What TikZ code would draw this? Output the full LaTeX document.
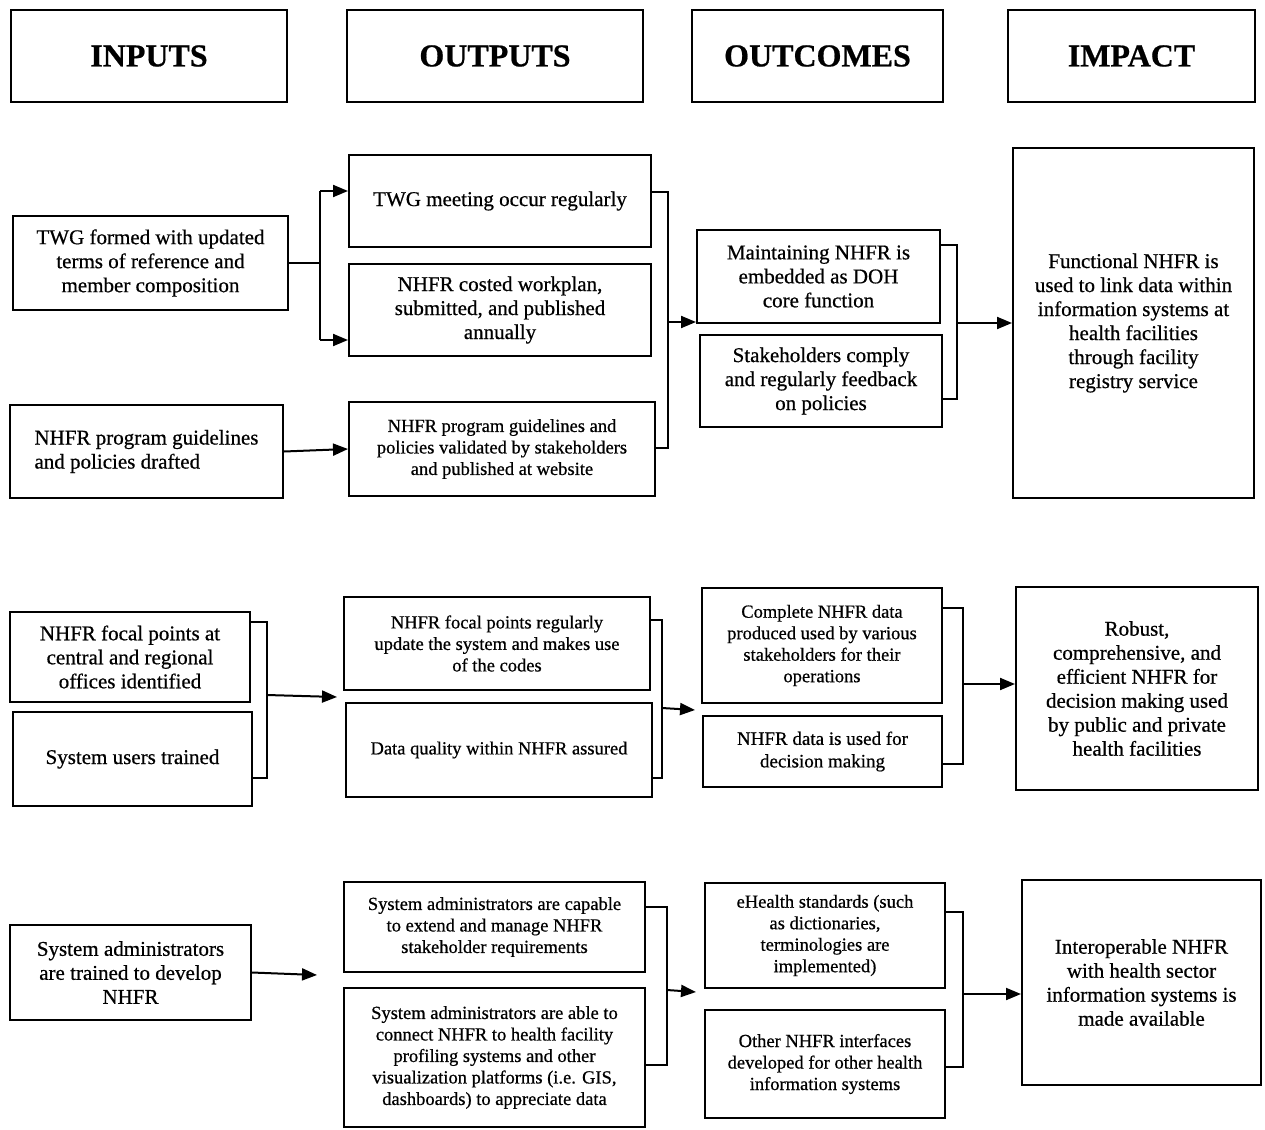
\documentclass[tikz,border=0pt]{standalone}
\usepackage{fontspec}
\setmainfont{Liberation Serif}[FakeBold=0.6]
\usetikzlibrary{arrows.meta}
\tikzset{
 box/.style={draw, line width=2pt, align=center, inner sep=2pt},
 hdr/.style={font=\fontsize{32}{36}\selectfont\bfseries},
 bigt/.style={font=\fontsize{21}{24}\selectfont},
 smallt/.style={font=\fontsize{18.5}{21.5}\selectfont},
 ln/.style={line width=2pt},
 arr/.style={line width=2pt, -{Triangle[length=15pt,width=12pt]}},
}
\newcommand\bx[7]{%
 \pgfmathsetmacro\bxw{#4-#2}\pgfmathsetmacro\bxh{#5-#3}%
 \pgfmathsetmacro\bxcx{(#2+#4)/2}\pgfmathsetmacro\bxcy{(#3+#5)/2}%
 \node[box,#6,minimum width=\bxw pt,minimum height=\bxh pt] (#1) at (\bxcx,\bxcy) {#7};}
\begin{document}
\begin{tikzpicture}[x=1pt,y=-1pt]
\fill[white] (0,0) rectangle (1265,1129);
\useasboundingbox (0,0) rectangle (1265,1129);
% headers
\bx{hin}{11}{10}{287}{102}{hdr}{INPUTS}
\bx{hout}{347}{10}{643}{102}{hdr}{OUTPUTS}
\bx{hoc}{692}{10}{943}{102}{hdr}{OUTCOMES}
\bx{him}{1008}{10}{1255}{102}{hdr}{IMPACT}
% section 1
\bx{twg}{13}{216}{288}{310}{bigt}{TWG formed with updated\\ terms of reference and\\ member composition}
\bx{draft}{10}{405}{283}{498}{bigt,align=left}{NHFR program guidelines\\ and policies drafted}
\bx{meet}{349}{155}{651}{247}{bigt}{TWG meeting occur regularly}
\bx{work}{349}{264}{651}{356}{bigt}{NHFR costed workplan,\\ submitted, and published\\ annually}
\bx{valid}{349}{402}{655}{496}{smallt}{NHFR program guidelines and\\ policies validated by stakeholders\\ and published at website}
\bx{maint}{697}{230}{940}{323}{bigt}{Maintaining NHFR is\\ embedded as DOH\\ core function}
\bx{stake}{700}{335}{942}{427}{bigt}{Stakeholders comply\\ and regularly feedback\\ on policies}
\bx{func}{1013}{148}{1254}{498}{bigt}{Functional NHFR is\\ used to link data within\\ information systems at\\ health facilities\\ through facility\\ registry service}
% section 2
\bx{fp}{10}{612}{250}{702}{bigt}{NHFR focal points at\\ central and regional\\ offices identified}
\bx{users}{13}{712}{252}{806}{bigt}{System users trained}
\bx{fpr}{344}{597}{650}{690}{smallt}{NHFR focal points regularly\\ update the system and makes use\\ of the codes}
\bx{dq}{346}{703}{652}{797}{smallt}{Data quality within NHFR assured}
\bx{complete}{702}{588}{942}{703}{smallt}{Complete NHFR data\\ produced used by various\\ stakeholders for their\\ operations}
\bx{used}{703}{716}{942}{787}{smallt,font=\fontsize{19}{22.5}\selectfont}{NHFR data is used for\\ decision making}
\bx{robust}{1016}{587}{1258}{790}{bigt}{Robust,\\ comprehensive, and\\ efficient NHFR for\\ decision making used\\ by public and private\\ health facilities}
% section 3
\bx{sa}{10}{925}{251}{1020}{bigt}{System administrators\\ are trained to develop\\ NHFR}
\bx{cap}{344}{882}{645}{972}{smallt}{System administrators are capable\\ to extend and manage NHFR\\ stakeholder requirements}
\bx{able}{344}{988}{645}{1127}{smallt}{System administrators are able to\\ connect NHFR to health facility\\ profiling systems and other\\ visualization platforms (i.e. GIS,\\ dashboards) to appreciate data}
\bx{eh}{705}{883}{945}{988}{smallt}{eHealth standards (such\\ as dictionaries,\\ terminologies are\\ implemented)}
\bx{other}{705}{1010}{945}{1118}{smallt}{Other NHFR interfaces\\ developed for other health\\ information systems}
\bx{inter}{1022}{880}{1261}{1085}{bigt}{Interoperable NHFR\\ with health sector\\ information systems is\\ made available}
% connector coordinates
\coordinate (b1t) at (320,191);
\coordinate (b1b) at (320,340);
\coordinate (o1t) at (668,192);
\coordinate (o1b) at (668,448);
\coordinate (o1m) at (668,322);
\coordinate (c1t) at (957,245);
\coordinate (c1b) at (957,399);
\coordinate (c1m) at (957,323);
\coordinate (i2t) at (267,622);
\coordinate (i2b) at (267,778);
\coordinate (i2m) at (267,695);
\coordinate (i2e) at (337,697);
\coordinate (o2t) at (662,620);
\coordinate (o2b) at (662,778);
\coordinate (o2m) at (662,708);
\coordinate (o2e) at (695,710);
\coordinate (c2t) at (963,608);
\coordinate (c2b) at (963,764);
\coordinate (c2m) at (963,684);
\coordinate (s3e) at (317,975);
\coordinate (o3t) at (667,907);
\coordinate (o3b) at (667,1065);
\coordinate (o3m) at (667,990);
\coordinate (o3e) at (696,992);
\coordinate (c3t) at (963,912);
\coordinate (c3b) at (963,1067);
\coordinate (c3m) at (963,994);
% section 1 connectors
\draw[ln] (twg.east) -- (twg.east -| b1t);
\draw[ln] (b1t) -- (b1b);
\draw[arr] (b1t) -- (b1t -| meet.west);
\draw[arr] (b1b) -- (b1b -| work.west);
\draw[arr] (draft.east) -- (valid.west);
\draw[ln] (meet.east |- o1t) -- (o1t) -- (o1b) -- (valid.east |- o1b);
\draw[arr] (o1m) -- (o1m -| maint.west);
\draw[ln] (maint.east |- c1t) -- (c1t) -- (c1b) -- (stake.east |- c1b);
\draw[arr] (c1m) -- (c1m -| func.west);
% section 2 connectors
\draw[ln] (fp.east |- i2t) -- (i2t) -- (i2b) -- (users.east |- i2b);
\draw[arr] (i2m) -- (i2e);
\draw[ln] (fpr.east |- o2t) -- (o2t) -- (o2b) -- (dq.east |- o2b);
\draw[arr] (o2m) -- (o2e);
\draw[ln] (complete.east |- c2t) -- (c2t) -- (c2b) -- (used.east |- c2b);
\draw[arr] (c2m) -- (c2m -| robust.west);
% section 3 connectors
\draw[arr] (sa.east) -- (s3e);
\draw[ln] (cap.east |- o3t) -- (o3t) -- (o3b) -- (able.east |- o3b);
\draw[arr] (o3m) -- (o3e);
\draw[ln] (eh.east |- c3t) -- (c3t) -- (c3b) -- (other.east |- c3b);
\draw[arr] (c3m) -- (c3m -| inter.west);
\end{tikzpicture}
\end{document}
